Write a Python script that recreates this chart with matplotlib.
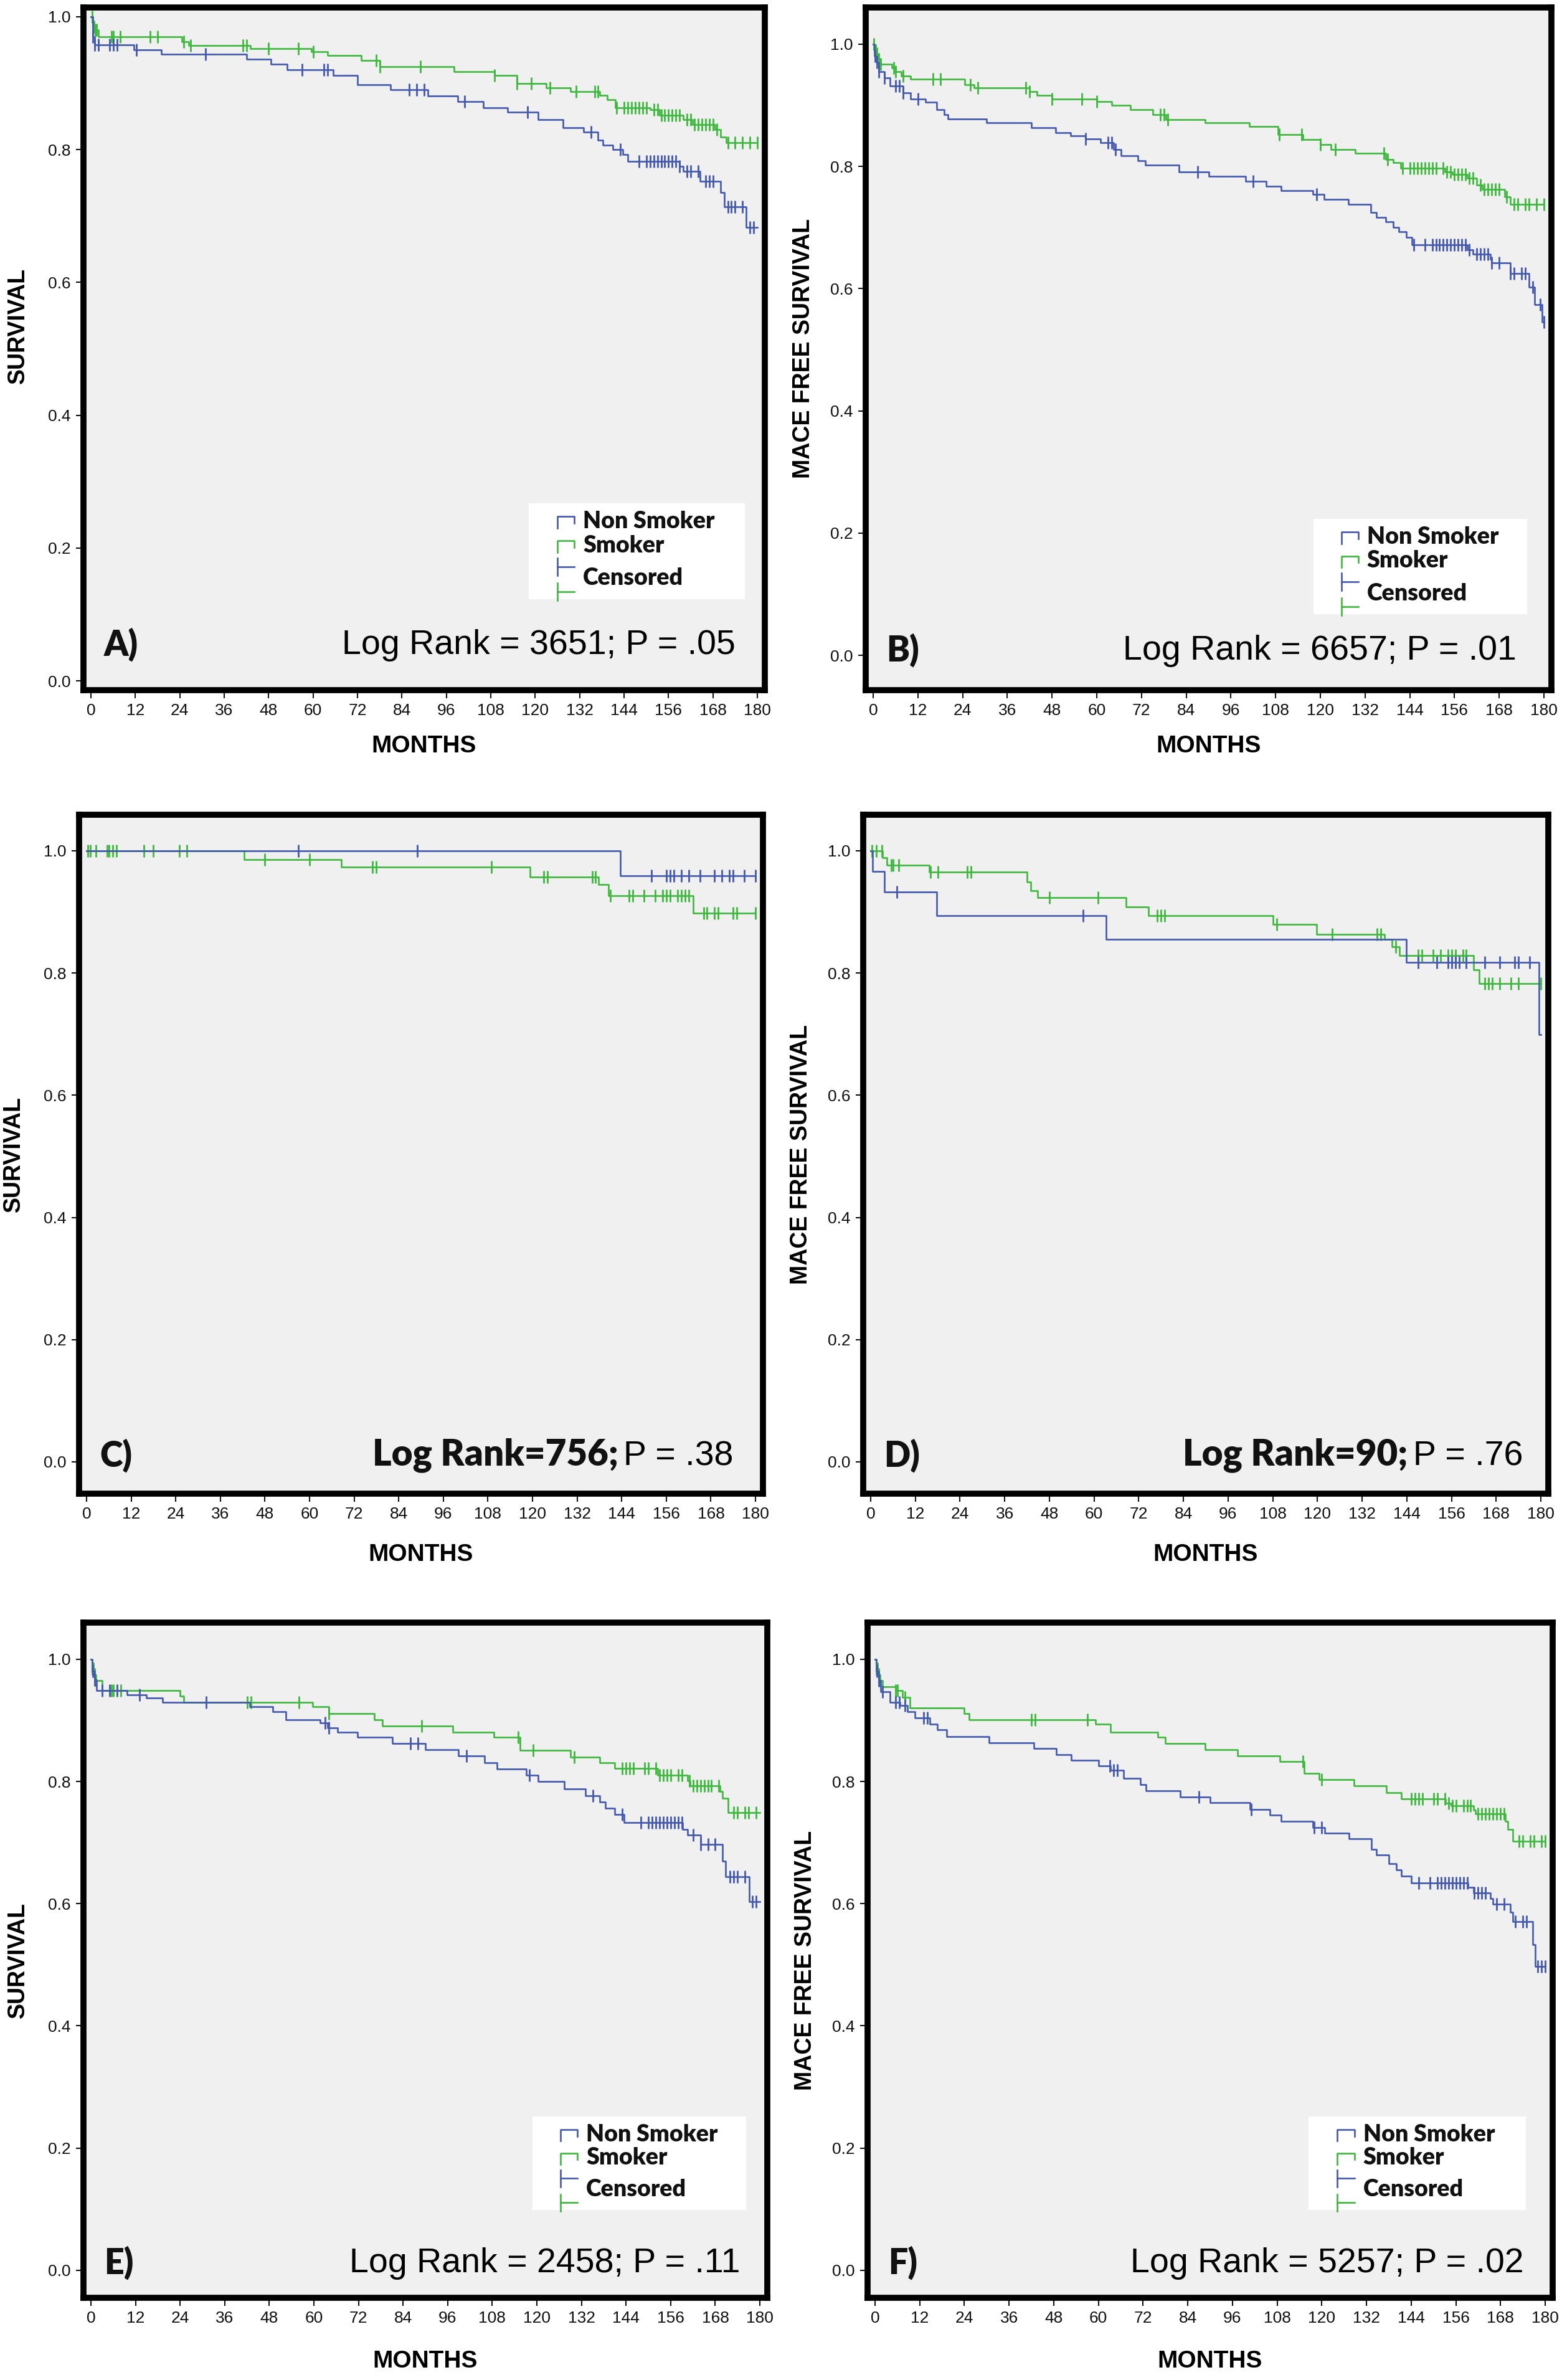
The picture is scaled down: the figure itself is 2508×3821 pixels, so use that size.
import numpy as np
import matplotlib
matplotlib.use('Agg')
import matplotlib.pyplot as plt
from matplotlib.patches import Rectangle
from matplotlib.ticker import FormatStrFormatter

plt.rcParams['font.family'] = ['Liberation Sans', 'DejaVu Sans']

# ---- data ----
# t = event times (months), s = survival after the step, c = censored times
A_ns_t = [0.5, 1, 11.7, 19, 42, 48.7, 53, 65.5, 72, 81, 91, 99, 106, 112.6, 120.7, 127.5, 133, 137, 138.3, 141,
          143.6, 145, 159, 160, 164.5, 170, 171, 177]
A_ns_s = [0.97, 0.958, 0.95, 0.944, 0.936, 0.929, 0.92, 0.912, 0.898, 0.89, 0.881, 0.872, 0.863, 0.856, 0.845,
          0.833, 0.826, 0.814, 0.807, 0.8, 0.793, 0.782, 0.775, 0.767, 0.752, 0.735, 0.714, 0.683]
A_ns_c = [0.5, 1, 2, 5, 6, 7, 12.3, 31, 57, 63, 64, 86, 88, 90, 101, 118, 135, 143, 148, 150, 151, 152, 153, 154,
          155, 156, 157, 158, 159, 161, 162, 164, 166, 167, 168, 172, 173, 174, 176, 178, 179]
A_sm_t = [0.5, 1, 2, 24.5, 26.5, 43, 59.5, 64, 73, 78, 98, 109, 115, 123, 129.5, 137.5, 139.5, 141.7, 151, 153.5,
          160, 162.5, 168.5, 170, 171.5]
A_sm_s = [0.985, 0.98, 0.97, 0.962, 0.957, 0.952, 0.947, 0.942, 0.934, 0.925, 0.917, 0.912, 0.9, 0.893, 0.887,
          0.882, 0.875, 0.863, 0.86, 0.852, 0.845, 0.838, 0.83, 0.819, 0.81]
A_sm_c = [0.3, 0.8, 1.2, 1.5, 5.5, 6, 8, 16, 18, 25, 27, 41, 42, 48, 56, 60, 77, 78, 89, 109, 115, 119, 124, 131,
          136, 137, 142, 144, 145, 146, 147, 148, 149, 150, 152, 153, 154, 155, 156, 157, 158, 159, 161, 162, 163,
          164, 165, 166, 167, 168, 169, 172, 174, 176, 178, 180]

B_ns_t = [0.3, 0.8, 1.5, 3, 4.5, 8, 10, 14, 17, 19, 20, 30.5, 42.5, 49, 53, 57, 61, 64.5, 66.5, 71, 73, 82, 90,
          100, 105.5, 109.5, 118, 121, 127.5, 133.5, 135, 137.5, 139.5, 141, 143, 144.5, 159.5, 161, 165.6, 166,
          171, 176, 177.5, 179.5]
B_ns_s = [0.981, 0.97, 0.955, 0.945, 0.932, 0.92, 0.91, 0.905, 0.893, 0.885, 0.878, 0.871, 0.863, 0.855, 0.85,
          0.845, 0.839, 0.828, 0.817, 0.809, 0.802, 0.791, 0.784, 0.776, 0.768, 0.76, 0.754, 0.746, 0.738, 0.725,
          0.717, 0.709, 0.7, 0.693, 0.684, 0.672, 0.664, 0.656, 0.648, 0.642, 0.625, 0.602, 0.574, 0.545]
B_ns_c = [0.5, 1, 1.5, 3, 6, 7, 8, 12, 57, 63, 64, 65, 87, 102, 119, 145, 148, 150, 151, 152, 153, 154, 155, 156,
          157, 158, 159, 160, 162, 163, 164, 165, 166, 168, 171, 172, 174, 175, 177, 179, 180]
B_sm_t = [0.3, 0.8, 1.2, 2, 5, 6, 7.5, 10, 24.5, 27, 42, 44, 48, 60, 64, 69, 75, 78.5, 89, 101, 108.7, 115.4, 120,
          122.8, 129.4, 137.5, 139.5, 141.5, 153.5, 155.5, 159.5, 162, 163.5, 169.5, 171]
B_sm_s = [0.99, 0.985, 0.975, 0.967, 0.961, 0.955, 0.948, 0.943, 0.934, 0.929, 0.922, 0.916, 0.91, 0.906, 0.9,
          0.893, 0.885, 0.877, 0.871, 0.865, 0.852, 0.844, 0.836, 0.828, 0.822, 0.811, 0.806, 0.797, 0.791, 0.787,
          0.781, 0.77, 0.762, 0.75, 0.738]
B_sm_c = [0.2, 0.6, 1, 1.5, 2, 5.5, 6, 8, 16, 18, 26, 28, 41, 42, 48, 56, 60, 77, 78, 79, 109, 115, 120, 124, 137,
          138, 142, 144, 145, 146, 147, 148, 149, 150, 151, 153, 154, 155, 156, 157, 158, 159, 160, 161, 163, 164,
          165, 166, 167, 168, 170, 172, 173, 175, 176, 178, 180]

C_ns_t = [143.7]
C_ns_s = [0.959]
C_ns_c = [57, 89, 152, 156, 157, 158, 160, 162, 165, 169, 171, 173, 174, 177, 180]
C_sm_t = [42.4, 68.5, 119.4, 137.7, 140.5, 163.3]
C_sm_s = [0.986, 0.973, 0.957, 0.945, 0.927, 0.898]
C_sm_c = [0.3, 1, 2.5, 5.5, 6, 7, 8, 15.5, 18, 25, 27, 48, 60, 77, 78, 109, 123, 124, 136, 137, 141, 146, 147, 150,
          153, 155, 156, 157, 159, 160, 161, 162, 166, 167, 169, 170, 174, 175, 180]

D_ns_t = [0.5, 3.7, 17.8, 63.2, 143.9, 179.5]
D_ns_s = [0.966, 0.933, 0.894, 0.855, 0.817, 0.699]
D_ns_c = [7, 57, 147, 152, 155, 156, 157, 158, 160, 165, 169, 173, 174, 177]
D_sm_t = [3.2, 4.4, 15.8, 42, 43, 44.8, 68.6, 74.6, 108, 119.7, 138, 140, 142, 162, 163.5]
D_sm_s = [0.989, 0.976, 0.965, 0.949, 0.935, 0.923, 0.908, 0.894, 0.88, 0.863, 0.855, 0.843, 0.829, 0.805, 0.783]
D_sm_c = [0.3, 1.5, 3, 5.5, 6, 7.5, 16, 18, 26, 27, 48, 61, 77, 78, 79, 109, 124, 136, 137, 141, 147, 148, 151,
          153, 155, 156, 157, 159, 160, 165, 166, 167, 169, 172, 174, 180]

E_ns_t = [0.3, 1, 1.5, 9.8, 15, 19.2, 42.8, 48.9, 52.5, 61.7, 63.7, 66.4, 71.7, 81.2, 90, 98.8, 105.9, 109.3,
          117.2, 120.3, 127.4, 133, 137, 138.4, 141, 143.5, 159.2, 160.6, 164, 170, 170.7, 177.2]
E_ns_s = [0.98, 0.966, 0.949, 0.942, 0.937, 0.93, 0.922, 0.914, 0.901, 0.896, 0.888, 0.881, 0.872, 0.862, 0.852,
          0.842, 0.831, 0.82, 0.81, 0.8, 0.788, 0.777, 0.766, 0.756, 0.746, 0.733, 0.722, 0.712, 0.697, 0.67,
          0.644, 0.603]
E_ns_c = [0.5, 1, 3, 5, 7, 13, 31, 63, 64, 86, 88, 101, 118, 135, 143, 148, 150, 151, 152, 153, 154, 155, 156,
          157, 158, 159, 162, 164, 166, 168, 172, 173, 174, 176, 178, 179]
E_sm_t = [0.3, 0.8, 1.2, 3, 24, 25, 59.6, 64, 76.2, 78.5, 97.3, 108.5, 115.5, 129, 137, 141, 152.5, 160.6, 161.3,
          169.3, 170, 171.4]
E_sm_s = [0.985, 0.975, 0.965, 0.949, 0.94, 0.93, 0.922, 0.911, 0.901, 0.891, 0.881, 0.872, 0.851, 0.84, 0.831,
          0.821, 0.81, 0.801, 0.793, 0.784, 0.773, 0.749]
E_sm_c = [0.3, 0.6, 1, 1.3, 5.5, 6, 8, 42, 43, 56, 64, 89, 115, 119, 130, 143, 144, 145, 146, 149, 150, 152, 153,
          154, 155, 156, 158, 159, 161, 162, 163, 164, 165, 166, 167, 169, 173, 174, 176, 177, 179]

F_ns_t = [0.3, 1, 1.5, 4, 6.7, 8.7, 10.7, 14.7, 16.7, 19.3, 30.7, 42.7, 48.7, 52.7, 60, 63.3, 66.7, 71.3, 72.7,
          82, 90, 100.7, 106, 109, 117.6, 120.7, 127.3, 133.3, 134.7, 138, 140, 141.3, 144, 159.3, 160.7, 165.3,
          166, 170.7, 171.3, 176.7, 177.3]
F_ns_s = [0.98, 0.965, 0.947, 0.93, 0.924, 0.914, 0.904, 0.894, 0.885, 0.873, 0.863, 0.854, 0.844, 0.835, 0.826,
          0.818, 0.805, 0.795, 0.785, 0.775, 0.765, 0.754, 0.745, 0.735, 0.725, 0.715, 0.706, 0.689, 0.68, 0.666,
          0.655, 0.645, 0.634, 0.627, 0.618, 0.608, 0.599, 0.586, 0.571, 0.533, 0.497]
F_ns_c = [0.5, 1, 2, 5.5, 6.5, 8, 13, 14, 63, 64, 65, 87, 101, 118, 120, 146, 149, 151, 152, 153, 154, 155, 156,
          157, 158, 159, 161, 162, 163, 164, 167, 169, 172, 174, 175, 178, 179, 180]
F_sm_t = [0.3, 0.8, 1.2, 2, 5.5, 7.3, 9.3, 24, 25.3, 59.3, 63.3, 76, 78, 88.7, 97.3, 108.7, 115.3, 119.3, 128.7,
          137.3, 141.3, 153.3, 154.7, 160.7, 161.3, 169.3, 170, 171.3]
F_sm_s = [0.985, 0.975, 0.965, 0.955, 0.949, 0.938, 0.92, 0.911, 0.901, 0.894, 0.881, 0.872, 0.862, 0.852, 0.842,
          0.833, 0.813, 0.803, 0.793, 0.782, 0.772, 0.764, 0.76, 0.753, 0.747, 0.735, 0.722, 0.702]
F_sm_c = [0.3, 0.7, 1, 1.3, 5.5, 6, 8, 42, 43, 57, 115, 120, 144, 145, 146, 147, 150, 151, 153, 154, 155, 156, 158,
          159, 160, 162, 163, 164, 165, 166, 167, 168, 169, 173, 174, 176, 177, 179, 180]

month_ticks = list(range(0, 181, 12))
surv_ticks = [0.0, 0.2, 0.4, 0.6, 0.8, 1.0]
groups = ['Non Smoker', 'Smoker']

BLUE = '#4358AE'
GREEN = '#3DB83D'
BOLD = ['Lato', 'Open Sans', 'DejaVu Sans']

W, H = 2508, 3821
fig = plt.figure(figsize=(W / 100, H / 100), dpi=100)
fig.patch.set_facecolor('white')


def surv_at(t, s, times):
    vals = np.r_[1.0, s]
    return vals[np.searchsorted(t, times, side='right')]


def draw_curve(ax, t, s, c, color):
    t = np.asarray(t, float)
    s = np.asarray(s, float)
    ax.step(np.r_[0, t, 180], np.r_[1.0, s, s[-1]], where='post', color=color, lw=1.9, zorder=3)
    ax.plot(c, surv_at(t, s, c), ls='none', marker='|', ms=14, mew=2.0, color=color, zorder=3)


def draw_legend(ax, box):
    x0, y0, x1, y1 = box
    w, h = x1 - x0, y1 - y0
    ax.add_patch(Rectangle((x0, y0), w, h, transform=ax.transAxes, facecolor='white',
                           edgecolor='none', zorder=4))
    sx0, sx1 = x0 + 0.13 * w, x0 + 0.21 * w
    tx = x0 + 0.25 * w
    for yc, col in [(0.81, BLUE), (0.56, GREEN)]:
        yy = y0 + yc * h
        ax.plot([sx0, sx0, sx1, sx1], [yy - 0.07 * h, yy + 0.05 * h, yy + 0.05 * h, yy - 0.02 * h],
                transform=ax.transAxes, color=col, lw=1.9, zorder=5, clip_on=False)
    for yc, col in [(0.34, BLUE), (0.08, GREEN)]:
        yy = y0 + yc * h
        ax.plot([sx0, sx0], [yy - 0.09 * h, yy + 0.09 * h], transform=ax.transAxes, color=col,
                lw=1.9, zorder=5, clip_on=False)
        ax.plot([sx0, sx1], [yy, yy], transform=ax.transAxes, color=col, lw=1.9, zorder=5, clip_on=False)
    for yc, txt in [(0.81, groups[0]), (0.56, groups[1]), (0.22, 'Censored')]:
        ax.text(tx, y0 + yc * h, txt, transform=ax.transAxes, fontsize=27, fontweight='heavy',
                family=BOLD, va='center', ha='left', zorder=6, color='#111111')


panels = [
    dict(frame=(134, 12, 1228, 1108), ylim=(-0.014, 1.014), ylab='SURVIVAL', ylab_pos=(-0.096, 0.534),
         xlab_y=-0.082, letter='A)', data=(A_ns_t, A_ns_s, A_ns_c, A_sm_t, A_sm_s, A_sm_c),
         text='Log Rank = 3651; P = .05', bold_text=None, tpos=(0.957, 0.042),
         legend=(0.654, 0.133, 0.971, 0.274)),
    dict(frame=(1390, 12, 2491, 1108), ylim=(-0.057, 1.06), ylab='MACE FREE SURVIVAL', ylab_pos=(-0.091, 0.5),
         xlab_y=-0.082, letter='B)', data=(B_ns_t, B_ns_s, B_ns_c, B_sm_t, B_sm_s, B_sm_c),
         text='Log Rank = 6657; P = .01', bold_text=None, tpos=(0.949, 0.034),
         legend=(0.653, 0.111, 0.965, 0.251)),
    dict(frame=(127, 1308, 1225, 2398), ylim=(-0.052, 1.059), ylab='SURVIVAL', ylab_pos=(-0.096, 0.5),
         xlab_y=-0.09, letter='C)', data=(C_ns_t, C_ns_s, C_ns_c, C_sm_t, C_sm_s, C_sm_c),
         text='P = .38', bold_text='Log Rank=756;', tpos=(0.957, 0.031), legend=None),
    dict(frame=(1386, 1308, 2486, 2398), ylim=(-0.052, 1.059), ylab='MACE FREE SURVIVAL', ylab_pos=(-0.091, 0.5),
         xlab_y=-0.09, letter='D)', data=(D_ns_t, D_ns_s, D_ns_c, D_sm_t, D_sm_s, D_sm_c),
         text='P = .76', bold_text='Log Rank=90;', tpos=(0.963, 0.031), legend=None),
    dict(frame=(134, 2605, 1232, 3689), ylim=(-0.045, 1.06), ylab='SURVIVAL', ylab_pos=(-0.096, 0.5),
         xlab_y=-0.094, letter='E)', data=(E_ns_t, E_ns_s, E_ns_c, E_sm_t, E_sm_s, E_sm_c),
         text='Log Rank = 2458; P = .11', bold_text=None, tpos=(0.96, 0.027),
         legend=(0.657, 0.130, 0.969, 0.268)),
    dict(frame=(1393, 2605, 2493, 3689), ylim=(-0.045, 1.06), ylab='MACE FREE SURVIVAL', ylab_pos=(-0.091, 0.5),
         xlab_y=-0.094, letter='F)', data=(F_ns_t, F_ns_s, F_ns_c, F_sm_t, F_sm_s, F_sm_c),
         text='Log Rank = 5257; P = .02', bold_text=None, tpos=(0.958, 0.027),
         legend=(0.644, 0.130, 0.961, 0.268)),
]

for p in panels:
    l, t, r, b = p['frame']
    ax = fig.add_axes([l / W, 1 - b / H, (r - l) / W, (b - t) / H])
    ax.set_facecolor('#F0F0F0')
    ns_t, ns_s, ns_c, sm_t, sm_s, sm_c = p['data']
    draw_curve(ax, sm_t, sm_s, sm_c, GREEN)
    draw_curve(ax, ns_t, ns_s, ns_c, BLUE)

    ax.set_xlim(-2, 182)
    ax.set_ylim(*p['ylim'])
    ax.set_xticks(month_ticks)
    ax.set_yticks(surv_ticks)
    ax.yaxis.set_major_formatter(FormatStrFormatter('%.1f'))
    ax.tick_params(direction='out', length=9, width=1.5, labelsize=19, pad=6, colors='#111111')
    for sp in ax.spines.values():
        sp.set_linewidth(7)
        sp.set_color('black')

    ax.set_ylabel(p['ylab'], fontsize=27, fontweight='bold', va='center', ha='center')
    ax.yaxis.set_label_coords(*p['ylab_pos'])
    ax.set_xlabel('MONTHS', fontsize=28, fontweight='bold', va='center')
    ax.xaxis.set_label_coords(0.5, p['xlab_y'])

    tx, ty = p['tpos']
    ax.text(0.03, ty, p['letter'], transform=ax.transAxes, fontsize=40, fontweight='heavy',
            family=BOLD, va='bottom', ha='left', color='#111111', zorder=6)
    ptext = ax.text(tx, ty, p['text'], transform=ax.transAxes, fontsize=40, va='bottom', ha='right',
                    color='black', zorder=6)
    if p['bold_text']:
        ax.annotate(p['bold_text'], xy=(0, 0), xycoords=ptext, xytext=(-8, 0), textcoords='offset pixels',
                    fontsize=42, fontweight='heavy', family=BOLD, va='bottom', ha='right',
                    color='#111111', zorder=6)
    if p['legend']:
        draw_legend(ax, p['legend'])

fig.savefig('out.png', dpi=100, facecolor='white')
